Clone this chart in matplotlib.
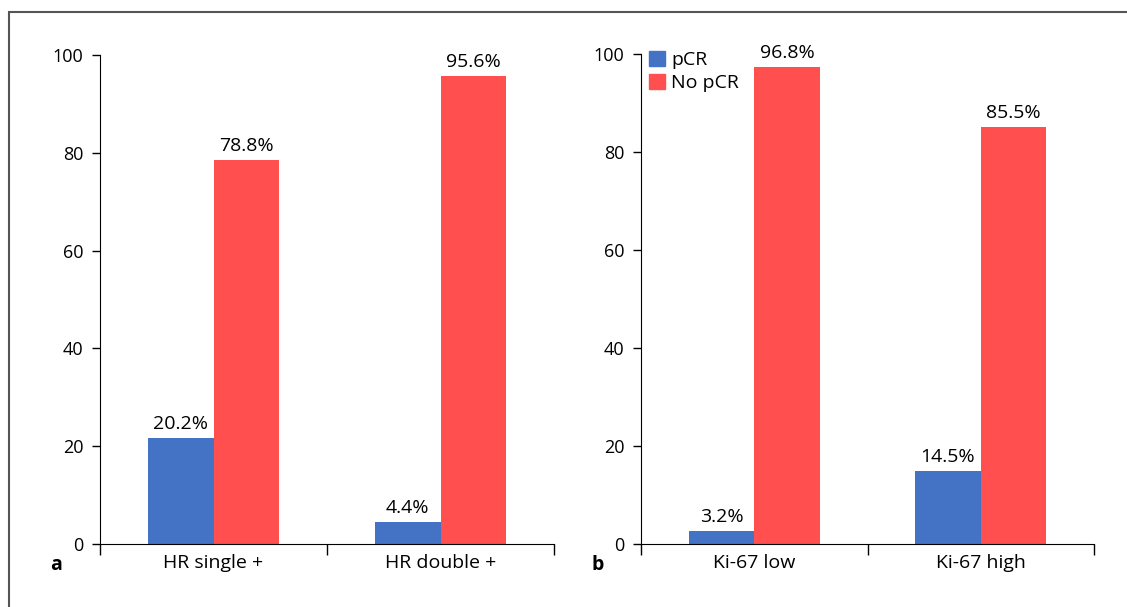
import numpy as np
import matplotlib
matplotlib.use("Agg")
import matplotlib.pyplot as plt
from matplotlib.patches import Rectangle, Patch

plt.rcParams['font.family'] = ['Open Sans', 'DejaVu Sans']
plt.rcParams['font.size'] = 13

# panel a
cats_a = ['HR single +', 'HR double +']
pcr_a = [21.6, 4.5]
nopcr_a = [78.5, 95.7]
pcr_a_txt = ['20.2%', '4.4%']
nopcr_a_txt = ['78.8%', '95.6%']

# panel b
cats_b = ['Ki-67 low', 'Ki-67 high']
pcr_b = [2.7, 14.9]
nopcr_b = [97.3, 85.2]
pcr_b_txt = ['3.2%', '14.5%']
nopcr_b_txt = ['96.8%', '85.5%']

yticks = [0, 20, 40, 60, 80, 100]
blue = '#4472C4'
red = '#FF4F4F'

fig = plt.figure(figsize=(11.27, 6.07), dpi=100)

# outer frame (only left and top edges are visible)
fig.patches.append(Rectangle((9 / 1127, -0.2), 1.2, 1.2 - 11.5 / 607,
                             transform=fig.transFigure, fill=False,
                             edgecolor='#555555', lw=1.5))

ax1 = fig.add_axes([100 / 1127, 1 - 544 / 607, 454 / 1127, 489 / 607])
ax2 = fig.add_axes([641 / 1127, 1 - 544 / 607, 453 / 1127, 490 / 607])

w = 0.29


def panel(ax, cats, pcr, nopcr, pcr_txt, nopcr_txt, letter):
    x = np.arange(len(cats))
    ax.bar(x - w / 2, pcr, w, color=blue, label='pCR')
    ax.bar(x + w / 2, nopcr, w, color=red, label='No pCR')
    for xi, v, t in zip(x, pcr, pcr_txt):
        ax.text(xi - w / 2, v + 1.0, t, ha='center', va='bottom', fontsize=14)
    for xi, v, t in zip(x, nopcr, nopcr_txt):
        ax.text(xi + w / 2, v + 1.0, t, ha='center', va='bottom', fontsize=14)
    ax.set_xlim(-0.5, len(cats) - 0.5)
    ax.set_ylim(0, 100)
    ax.set_yticks(yticks)
    ax.set_xticks(np.arange(len(cats) + 1) - 0.5)
    ax.set_xticklabels([])
    ax.set_xticks(x, minor=True)
    ax.set_xticklabels(cats, minor=True, fontsize=14)
    ax.tick_params(axis='x', which='major', length=8, width=1)
    ax.tick_params(axis='x', which='minor', length=0, pad=7)
    ax.tick_params(axis='y', length=6, width=1, pad=6)
    for s in ['top', 'right']:
        ax.spines[s].set_visible(False)
    ax.text(-0.11, -0.022, letter, transform=ax.transAxes, fontweight='bold',
            ha='left', va='top', fontsize=14)


panel(ax1, cats_a, pcr_a, nopcr_a, pcr_a_txt, nopcr_a_txt, 'a')
panel(ax2, cats_b, pcr_b, nopcr_b, pcr_b_txt, nopcr_b_txt, 'b')

handles = [Patch(color=blue, label='pCR'), Patch(color=red, label='No pCR')]
ax2.legend(handles=handles, loc='upper left', bbox_to_anchor=(-0.008, 1.03),
           frameon=False, handlelength=0.8, handleheight=0.8, fontsize=14,
           handletextpad=0.35, labelspacing=0.25, borderaxespad=0.2)

fig.savefig('out.png', dpi=100)
